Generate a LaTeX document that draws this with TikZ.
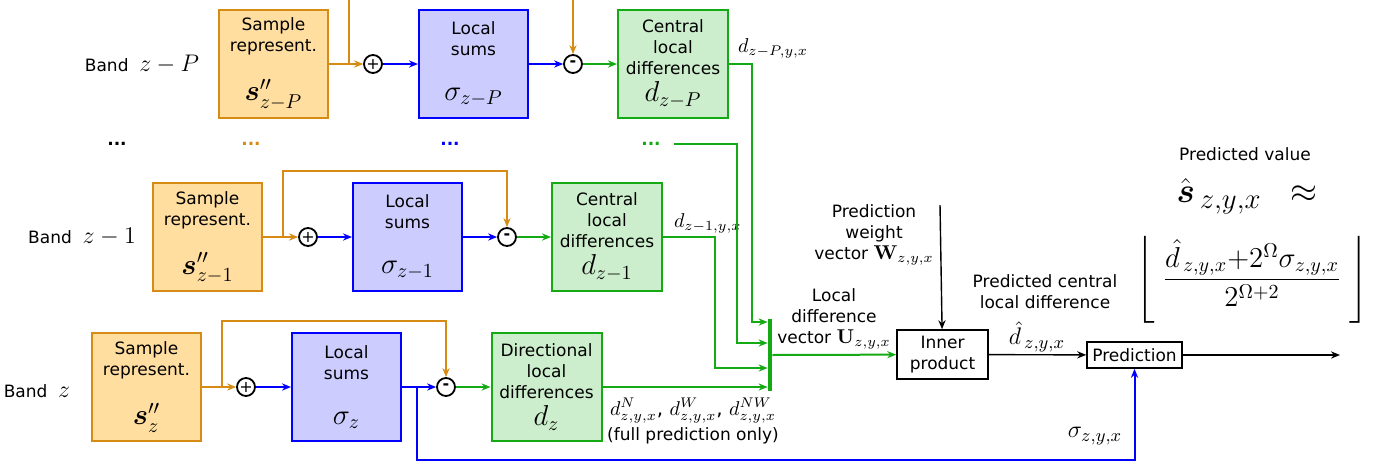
\documentclass[tikz,border=0pt]{standalone}
\usepackage{amsmath}
\usepackage{amssymb}
\usepackage[no-math]{fontspec}
\setmainfont{DejaVu Sans}
\usetikzlibrary{arrows.meta,positioning}

\definecolor{sampfill}{RGB}{255,222,160}
\definecolor{sampline}{RGB}{214,140,20}
\definecolor{sumfill}{RGB}{204,204,255}
\definecolor{sumline}{RGB}{0,0,255}
\definecolor{difffill}{RGB}{204,238,204}
\definecolor{diffline}{RGB}{20,170,20}

\newcommand{\txtsize}{\fontsize{8.5}{10.5}\selectfont}
\newcommand{\boxmath}{\fontsize{14.5}{16}\selectfont}
\newcommand{\bandmath}{\fontsize{12}{14}\selectfont}
\newcommand{\vecmath}{\fontsize{10}{12}\selectfont}
\newcommand{\outmath}{\fontsize{13}{15}\selectfont}

\tikzset{%
  samp/.style = {rectangle,draw=sampline,fill=sampfill,line width=1pt,
        minimum width=54.5pt,minimum height=54pt,align=center,inner sep=0pt},
  lsum/.style = {rectangle,draw=sumline,fill=sumfill,line width=1pt,
        minimum width=54.5pt,minimum height=54pt,align=center,inner sep=0pt},
  cdiff/.style = {rectangle,draw=diffline,fill=difffill,line width=1pt,
        minimum width=55pt,minimum height=54pt,align=center,inner sep=0pt},
  op/.style = {circle,draw,fill=white,line width=0.9pt,minimum size=9pt,
        inner sep=0pt,font=\fontsize{8}{8}\selectfont},
  blk/.style = {rectangle,draw,line width=0.8pt,align=center,inner sep=1pt},
  oline/.style = {sampline,line width=1pt},
  oarrow/.style = {-{Stealth[length=4.5pt,width=3.6pt]},sampline,line width=1pt},
  barrow/.style = {-{Stealth[length=4.5pt,width=3.6pt]},sumline,line width=1pt},
  garrow/.style = {-{Stealth[length=4.5pt,width=3.6pt]},diffline,line width=1pt},
  karrow/.style = {-{Stealth[length=4.5pt,width=3.6pt]},line width=0.7pt}
}

\begin{document}
\begin{tikzpicture}[x=0.5pt,y=-0.5pt,font=\txtsize]
\useasboundingbox (0,0) rectangle (1384,467);

% band z-P
\node (bandP) at (142,64) {Band\ \ {\bandmath$z-P$}};
\node[samp] (sP) at (273.5,64) {Sample\\represent.\\[11pt]{\boxmath$\boldsymbol{s}''_{z-P}$}};
\node[op] (addP) at (373,64) {+};
\node[lsum] (lP) at (473.5,64) {Local\\sums\\[12pt]{\boxmath$\sigma_{z-P}$}};
\node[op] (subP) at (573,64) {\textbf{-}};
\node[cdiff] (cP) at (673,64) {Central\\local\\differences\\[3pt]{\boxmath$d_{z-P}$}};
\node[anchor=west] (dPlab) at (731,48) {\vecmath$d_{z-P,y,x}$};
\coordinate (upP) at (349,0);
\coordinate (inP) at (573,0);

% dots between the bands
\node (dotk) at (117,144) {\textbf{...}};
\node[sampline] (doto) at (251,144) {\textbf{...}};
\node[sumline] (dotb) at (450,144) {\textbf{...}};
\node[diffline] (dotg) at (651,144) {\textbf{...}};

% band z-1
\node (band1) at (82,237) {Band\ \ {\bandmath$z-1$}};
\node[samp] (s1) at (207.5,237) {Sample\\represent.\\[11pt]{\boxmath$\boldsymbol{s}''_{z-1}$}};
\node[op] (add1) at (308,237) {+};
\node[lsum] (l1) at (407.5,237) {Local\\sums\\[12pt]{\boxmath$\sigma_{z-1}$}};
\node[op] (sub1) at (507,237) {\textbf{-}};
\node[cdiff] (c1) at (607,237) {Central\\local\\differences\\[3pt]{\boxmath$d_{z-1}$}};
\node[anchor=west] (d1lab) at (667,223) {\vecmath$d_{z-1,y,x}$};

% band z
\node (bandz) at (37,391) {Band\ \ {\bandmath$z$}};
\node[samp] (sz) at (146.5,387) {Sample\\represent.\\[11pt]{\boxmath$\boldsymbol{s}''_{z}$}};
\node[op] (addz) at (246,387) {+};
\node[lsum] (lz) at (346.5,387) {Local\\sums\\[12pt]{\boxmath$\sigma_{z}$}};
\node[op] (subz) at (446,387) {\textbf{-}};
\node[cdiff] (dz) at (546.5,387) {Directional\\local\\differences\\[3pt]{\boxmath$d_{z}$}};
\node[align=center] (dzlab) at (693,421)
  {{\vecmath$d^N_{z,y,x}$, $d^W_{z,y,x}$, $d^{NW}_{z,y,x}$}\\[2pt](full prediction only)};

% local difference vector and prediction
\node[fill=diffline,minimum width=2pt,minimum height=36pt,inner sep=0pt] (vec) at (770,355) {};
\node[align=center] (veclab) at (834,319) {Local\\difference\\vector {\vecmath$\mathbf{U}_{z,y,x}$}};
\node[align=center] (wlab) at (874,235) {Prediction\\weight\\vector {\vecmath$\mathbf{W}_{z,y,x}$}};
\coordinate (wtop) at (940,205);
\node[blk,minimum width=45.5pt,minimum height=24.5pt] (inner) at (942.5,354.5) {Inner\\product};
\node[blk,minimum width=47.5pt,minimum height=13pt] (pred) at (1134.5,355) {Prediction};
\coordinate (out) at (1340,355);
\node[align=center] (pclab) at (1045,292) {Predicted central\\local difference};
\node (dhat) at (1037,337) {\outmath$\hat{d}_{\,z,y,x}$};
\node (siglab) at (1095,436) {\outmath$\sigma_{z,y,x}$};
\node (pvlab) at (1245,154) {Predicted value};
\node (shat) at (1247,196) {\fontsize{19}{22}\selectfont$\hat{\boldsymbol{s}}_{\,z,y,x}\;\;\approx$};
\node (frac) at (1252,280) {\fontsize{14.5}{17}\selectfont
  $\left\lfloor\rule[-20pt]{0pt}{47pt}\;\dfrac{\hat{d}_{\,z,y,x}{+}2^{\Omega}\sigma_{z,y,x}}{2^{\Omega+2}}\;\right\rfloor$};

% connections band z-P
\draw[oarrow] (sP) -- (addP);
\draw[oline] (sP.east -| upP) -- (upP);
\draw[barrow] (addP) -- (lP);
\draw[barrow] (lP) -- (subP);
\draw[oarrow] (inP) -- (subP);
\draw[garrow] (subP) -- (cP);
\draw[garrow] (cP.east) -| (752,322) -- (vec.west |- 0,322);
\draw[garrow,shorten <=3pt] (dotg.east) -| (737,343) -- (vec.west |- 0,343);

% connections band z-1
\draw[oarrow] (s1) -- (add1);
\draw[oarrow] (s1.east -| 283,0) -- (283,171) -| (sub1);
\draw[barrow] (add1) -- (l1);
\draw[barrow] (l1) -- (sub1);
\draw[garrow] (sub1) -- (c1);
\draw[garrow] (c1.east) -| (715,368) -- (vec.west |- 0,368);

% connections band z
\draw[oarrow] (sz) -- (addz);
\draw[oarrow] (sz.east -| 222,0) -- (222,321) -| (subz);
\draw[barrow] (addz) -- (lz);
\draw[barrow] (lz) -- (subz);
\draw[barrow] (lz.east -| 417,0) -- (417,460) -| (pred);
\draw[garrow] (subz) -- (dz);
\draw[garrow] (dz.east) -- (vec.west |- dz.east);

% prediction path
\draw[garrow] (vec) -- (inner);
\draw[karrow] (wtop) -- (inner);
\draw[karrow] (inner) -- (pred);
\draw[karrow] (pred) -- (out);
\end{tikzpicture}
\end{document}
